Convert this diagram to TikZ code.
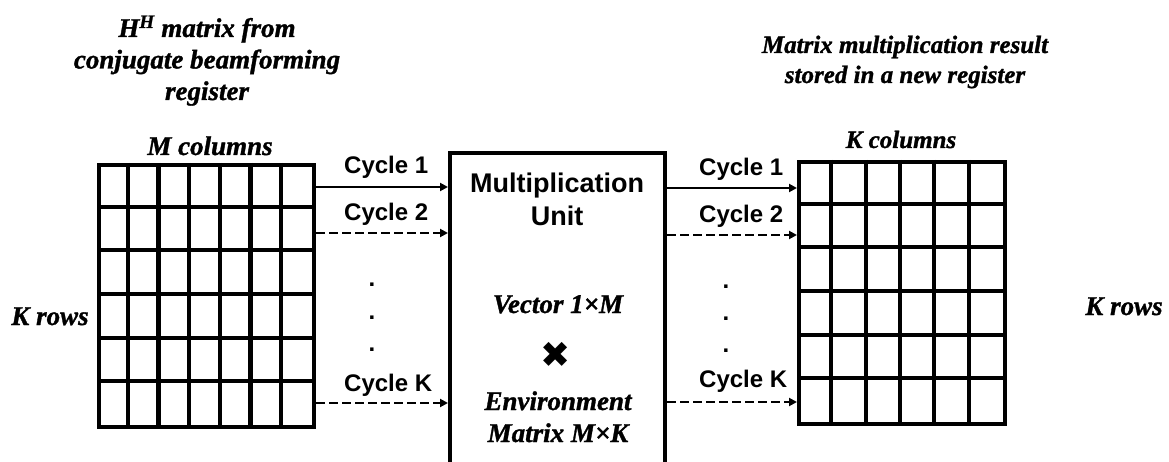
\documentclass[tikz,border=0pt]{standalone}
\usepackage{fontspec}
\setmainfont{Liberation Serif}[BoldItalicFeatures={FakeBold=1.2}]
\setsansfont{Liberation Sans}
\newfontfamily\symfont{DejaVu Sans}
\usetikzlibrary{arrows.meta}
\begin{document}
\begin{tikzpicture}[x=1pt,y=-1pt,
  ital/.style={font=\bfseries\itshape\fontsize{#1}{31}\selectfont, inner sep=0pt, align=center},
  ital/.default=26,
  cyc/.style={font=\sffamily\bfseries\fontsize{24}{26}\selectfont, inner sep=0pt, anchor=base west},
  dotl/.style={font=\sffamily\bfseries\fontsize{24}{26}\selectfont, inner sep=0pt, anchor=base},
  unit/.style={font=\sffamily\bfseries\fontsize{27}{33}\selectfont, inner sep=0pt, anchor=base},
  conn/.style={line width=2.5pt, -{Triangle[length=8pt,width=8pt]}},
  dconn/.style={conn, dash pattern=on 9pt off 4pt},
  gridline/.style={line width=4.3pt},
  matbox/.style={draw, line width=4.3pt, inner sep=0pt, anchor=north west}]
\useasboundingbox (0,0) rectangle (1169,462);
\clip (0,0) rectangle (1169,462);
\fill[white] (0,0) rectangle (1169,462);

% titles
\node[ital=27, anchor=base] (t1) at (207,37) {H\textsuperscript{H} matrix from};
\node[ital=27, anchor=base] (t2) at (207,68.5) {conjugate beamforming};
\node[ital=27, anchor=base] (t3) at (207,100) {register};
\node[ital=25, anchor=base] (t4) at (905,53) {Matrix multiplication result};
\node[ital=25, anchor=base] (t5) at (905,83) {stored in a new register};

\node[ital=27, anchor=base] (mcol) at (210,155) {M columns};
\node[ital=25, anchor=base] (kcol) at (901,148) {K columns};
\node[ital=27, anchor=base] (krl) at (50,325) {K rows};
\node[ital=27, anchor=base] (krr) at (1124,315) {K rows};

% left matrix
\node[matbox, minimum width=215pt, minimum height=262pt] (lm) at (97,163) {};
\foreach \i in {1,...,6} \draw[gridline] ({97+\i*215/7},163) -- ({97+\i*215/7},425);
\foreach \j in {1,...,5} \draw[gridline] (97,{163+\j*262/6}) -- (312,{163+\j*262/6});

% right matrix
\node[matbox, minimum width=206pt, minimum height=262pt] (rm) at (797,160) {};
\foreach \i in {1,...,5} \draw[gridline] ({797+\i*206/6},160) -- ({797+\i*206/6},422);
\foreach \j in {1,...,5} \draw[gridline] (797,{160+\j*262/6}) -- (1003,{160+\j*262/6});

% multiplication unit
\node[matbox, minimum width=215pt, minimum height=330pt] (mu) at (448,151) {};
\node[unit] (mu1) at (557,193) {Multiplication};
\node[unit] (mu2) at (557,226) {Unit};
\node[ital=27, anchor=base] (vec) at (558,313) {Vector 1×M};
\node[font=\symfont\fontsize{36}{40}\selectfont, inner sep=0pt] (times) at (556,355) {✖};
\node[ital=27, anchor=base] (env) at (558,410) {Environment};
\node[ital=27, anchor=base] (envm) at (558,442) {Matrix M×K};

% left connectors
\coordinate (ya) at (0,187);
\coordinate (yb) at (0,233);
\coordinate (yc) at (0,403);
\draw[conn] (lm.east |- ya) -- (mu.west |- ya);
\draw[dconn] (lm.east |- yb) -- (mu.west |- yb);
\draw[dconn] (lm.east |- yc) -- (mu.west |- yc);
\node[cyc] (lc1) at (344,174) {Cycle 1};
\node[cyc] (lc2) at (344,221) {Cycle 2};
\node[cyc] (lck) at (344,391) {Cycle K};
\node[dotl] (ld1) at (372,287) {.};
\node[dotl] (ld2) at (372,319) {.};
\node[dotl] (ld3) at (372,351) {.};

% right connectors
\coordinate (yd) at (0,188);
\coordinate (ye) at (0,235);
\coordinate (yf) at (0,402);
\draw[conn] (mu.east |- yd) -- (rm.west |- yd);
\draw[dconn] (mu.east |- ye) -- (rm.west |- ye);
\draw[dconn] (mu.east |- yf) -- (rm.west |- yf);
\node[cyc] (rc1) at (699,176) {Cycle 1};
\node[cyc] (rc2) at (699,223) {Cycle 2};
\node[cyc] (rck) at (699,387) {Cycle K};
\node[dotl] (rd1) at (726,288) {.};
\node[dotl] (rd2) at (726,320) {.};
\node[dotl] (rd3) at (726,352) {.};
\end{tikzpicture}
\end{document}
